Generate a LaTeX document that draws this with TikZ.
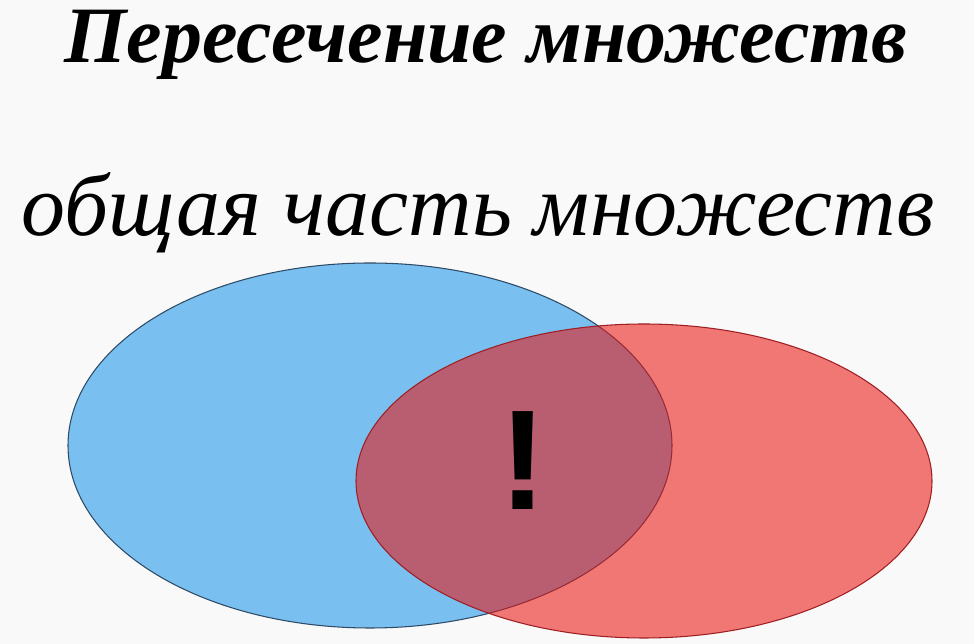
\documentclass[tikz,border=0pt]{standalone}
\usepackage{fontspec}
\setmainfont{Liberation Serif}
\newfontfamily\markfont{Liberation Sans}
\usetikzlibrary{shapes.geometric}

\definecolor{setA}{HTML}{79C0F0}
\definecolor{setAback}{HTML}{2E4A66}
\definecolor{setB}{HTML}{EC120E}
\definecolor{setBback}{HTML}{9E1E22}
\definecolor{paper}{HTML}{F9F9F9}

\begin{document}
\begin{tikzpicture}
            % Background
            \fill[paper] (0,0) rectangle (19.48,12.88);
            \useasboundingbox (0,0) rectangle (19.48,12.88);

            % Headings
            \node[anchor=base, font=\bfseries\itshape\fontsize{45.5}{55}\selectfont] (title) at (9.72,11.62) {Пересечение множеств};
            \node[anchor=base, font=\itshape\fontsize{50}{60}\selectfont] (subtitle) at (9.56,8.16) {общая часть множеств};

            % Sets
            \node[ellipse, draw=setAback, fill=setA, line width=0.6pt, minimum width=12.08cm, minimum height=7.3cm, inner sep=0pt] (A) at (7.40,3.97) {}; % first set
            \node[ellipse, draw=setBback, fill=setB, fill opacity=0.56, line width=0.6pt, minimum width=11.52cm, minimum height=6.28cm, inner sep=0pt] (B) at (12.88,3.26) {}; % second set

            % Common part
            \node[anchor=base, font=\markfont\bfseries\fontsize{81}{90}\selectfont] (mark) at (10.46,2.68) {!};

        \end{tikzpicture}
\end{document}
